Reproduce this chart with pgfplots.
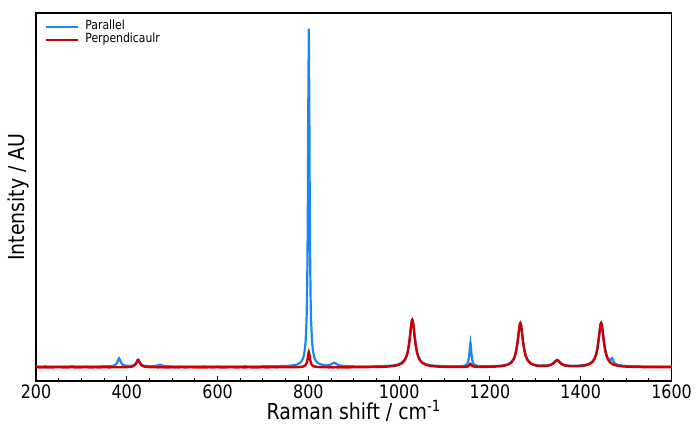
\documentclass[border=0pt]{standalone}
\usepackage{fontspec}
\setmainfont{DejaVu Sans}[FakeStretch=0.86]
\usepackage{pgfplots}
\pgfplotsset{compat=1.18}
\definecolor{parblue}{RGB}{25,135,250}
\definecolor{perpred}{RGB}{204,0,0}
\begin{document}
\begin{tikzpicture}
\begin{axis}[
 scale only axis, width=635.5bp, height=368bp,
 xmin=200, xmax=1600, ymin=-4, ymax=104.9,
 xtick={200,400,...,1600}, minor x tick num=3,
 ytick=\empty,
 xtick pos=left, tick align=inside,
 major tick length=5bp, minor tick length=3bp,
 every tick/.style={black, line width=1bp},
 axis line style={line width=1.3bp},
 ticklabel style={font=\fontsize{18.5bp}{22bp}\selectfont},
 /pgf/number format/assume math mode=true,
 /pgf/number format/1000 sep={},
 xlabel={Raman shift / cm\textsuperscript{-1}},
 ylabel={Intensity / AU},
 label style={font=\fontsize{22bp}{26bp}\selectfont},
 xlabel style={at={(axis description cs:0.5,-0.0815)}, anchor=center},
 ylabel style={at={(axis description cs:-0.0283,0.5)}, anchor=center},
 legend style={draw=none, fill=none, at={(axis description cs:0,1)}, anchor=north west,
   xshift=9bp, yshift=-7bp, font=\fontsize{12.6bp}{15bp}\selectfont,
   inner sep=0pt, row sep=0pt, column sep=5bp,
   nodes={inner sep=1bp, text depth=0.27em, text height=0.85em}, cells={anchor=west}},
 legend image code/.code={\draw[#1, line width=2.2bp] (0bp,0bp) -- (32bp,0bp);},
]
\addplot[parblue, line width=2.2bp] coordinates {
(200,0.32)(210,0.28)(220,0.35)(230,0.30)(240,0.26)(250,0.33)(260,0.29)(270,0.31)(280,0.36)(290,0.27)(300,0.30)(310,0.34)(320,0.28)(330,0.31)(340,0.33)(350,0.35)(360,0.38)
(370,0.50)(375,0.80)(379,1.52)(381,2.23)(383,2.71)(385,2.24)(387,1.53)(391,0.81)(395,0.59)(400,0.49)(405,0.47)(410,0.51)(415,0.66)(419,1.03)(422,1.68)(424,2.21)(425,2.30)(426,2.21)(428,1.68)(431,1.02)(435,0.64)(440,0.47)(450,0.39)(460,0.42)(466,0.53)(470,0.70)(473,0.80)(476,0.70)(480,0.51)(490,0.36)
(500,0.33)(510,0.28)(520,0.34)(530,0.31)(540,0.27)(550,0.33)(560,0.30)(570,0.35)(580,0.29)(590,0.31)(600,0.34)(610,0.30)(620,0.28)(630,0.33)(640,0.32)(650,0.29)(660,0.35)(670,0.31)(680,0.33)(690,0.30)(700,0.36)(710,0.34)(720,0.37)(730,0.38)(740,0.42)(750,0.44)
(760,0.54)(770,0.71)(776,0.94)(782,1.40)(786,2.05)(789,3.00)(792,5.0)(794,7.85)(796,14.1)(797,20.3)(798,31.1)(799,50.3)(800,80.3)(801,100.3)(802,80.3)(803,50.3)(804,31.1)(805,20.3)(806,14.1)(808,7.85)(810,5.0)(813,3.0)(816,2.05)(820,1.43)(826,0.98)(832,0.76)(840,0.67)(845,0.71)(850,0.89)(854,1.24)(857,1.43)(860,1.22)(865,0.76)(870,0.56)(880,0.43)(890,0.38)(900,0.34)(910,0.30)(920,0.31)(930,0.32)(940,0.33)(950,0.36)(960,0.39)(970,0.44)(980,0.53)
(990,0.68)(1000,1.01)(1006,1.42)(1012,2.25)(1016,3.35)(1019,4.79)(1022,7.15)(1024,9.39)(1026,11.91)(1027,13.02)(1028,13.77)(1029,14.05)(1030,13.77)(1031,13.02)(1032,11.91)(1034,9.39)(1036,7.15)(1039,4.79)(1042,3.35)(1046,2.25)(1052,1.42)(1060,0.92)(1070,0.64)(1080,0.51)(1090,0.44)(1100,0.39)(1110,0.37)(1120,0.36)(1130,0.37)(1140,0.45)(1146,0.64)(1150,1.09)(1152,1.70)(1154,3.17)(1155,4.57)(1156,6.33)(1157,7.30)(1158,6.33)(1159,4.57)(1160,3.17)(1162,1.70)(1164,1.09)(1168,0.64)(1175,0.43)(1185,0.37)(1195,0.37)(1205,0.40)(1215,0.45)(1225,0.56)(1232,0.70)(1238,0.91)(1244,1.30)(1248,1.74)(1252,2.51)(1255,3.48)(1258,5.06)(1261,7.63)(1263,9.93)(1265,12.13)(1266,12.84)(1267,13.10)(1268,12.84)(1269,12.13)(1271,9.93)(1273,7.63)(1276,5.06)(1279,3.48)(1282,2.51)(1286,1.74)(1290,1.30)(1296,0.91)(1304,0.65)(1312,0.59)(1320,0.56)(1328,0.63)(1335,0.91)(1340,1.32)(1344,1.89)(1348,2.26)(1352,1.88)(1356,1.31)(1362,0.83)(1370,0.59)(1380,0.51)(1390,0.51)(1400,0.59)(1408,0.71)(1415,0.92)(1420,1.19)(1426,1.79)(1430,2.56)(1434,3.97)(1437,5.85)(1440,8.79)(1442,11.15)(1443,12.18)(1444,12.89)(1445,13.15)(1446,12.91)(1447,12.21)(1448,11.18)(1450,8.83)(1453,5.90)(1456,4.05)(1459,2.95)(1463,2.24)(1466,2.29)(1468,2.70)(1469,2.76)(1470,2.54)(1472,1.81)(1475,1.22)(1480,0.85)(1486,0.67)(1494,0.51)(1505,0.42)(1520,0.36)(1540,0.32)(1560,0.30)(1580,0.28)(1600,0.27)
};
\addlegendentry{Parallel}
\addplot[perpred, line width=2.4bp] coordinates {
(200,0.08)(210,0.02)(220,0.06)(230,0.00)(240,0.05)(250,0.09)(260,0.03)(270,0.04)(280,0.07)(290,0.01)(300,0.05)(310,0.08)(320,0.02)(330,0.06)(340,0.04)(350,0.07)(360,0.05)(370,0.06)(375,0.07)(379,0.06)(381,0.08)(383,0.07)(385,0.07)(387,0.06)(391,0.09)(395,0.10)(400,0.12)(405,0.16)(410,0.23)(415,0.42)(419,0.84)(422,1.57)(424,2.15)(425,2.25)(426,2.15)(428,1.57)(431,0.84)(435,0.42)(440,0.23)(450,0.12)(460,0.08)(466,0.06)(470,0.04)(473,0.07)(476,0.05)(480,0.06)(490,0.03)
(500,0.06)(510,0.02)(520,0.07)(530,0.04)(540,0.08)(550,0.03)(560,0.05)(570,0.01)(580,0.06)(590,0.04)(600,0.07)(610,0.03)(620,0.05)(630,0.08)(640,0.02)(650,0.06)(660,0.04)(670,0.07)(680,0.03)(690,0.05)(700,0.06)(710,0.04)(720,0.07)(730,0.05)(740,0.08)(750,0.09)
(760,0.07)(770,0.09)(776,0.11)(782,0.16)(786,0.22)(789,0.31)(792,0.50)(794,0.75)(796,1.24)(797,1.67)(798,2.30)(799,3.17)(800,4.10)(801,4.55)(802,4.10)(803,3.17)(804,2.30)(805,1.67)(806,1.24)(808,0.75)(810,0.50)(813,0.31)(816,0.22)(820,0.16)(826,0.11)(832,0.09)(840,0.07)(845,0.04)(850,0.06)(854,0.03)(857,0.05)(860,0.07)(865,0.04)(870,0.06)(880,0.03)(890,0.05)(900,0.06)(910,0.10)(920,0.10)(930,0.12)(940,0.14)(950,0.16)(960,0.19)(970,0.24)(980,0.33)
(990,0.49)(1000,0.82)(1006,1.24)(1012,2.08)(1016,3.20)(1019,4.65)(1022,7.05)(1024,9.32)(1026,11.88)(1027,12.99)(1028,13.77)(1029,14.05)(1030,13.77)(1031,12.99)(1032,11.88)(1034,9.32)(1036,7.05)(1039,4.65)(1042,3.20)(1046,2.08)(1052,1.24)(1060,0.73)(1070,0.45)(1080,0.31)(1090,0.23)(1100,0.19)(1110,0.15)(1120,0.14)(1130,0.13)(1140,0.14)(1146,0.17)(1150,0.25)(1152,0.36)(1154,0.60)(1155,0.79)(1156,1.00)(1157,1.10)(1158,1.00)(1159,0.79)(1160,0.60)(1162,0.36)(1164,0.31)(1168,0.22)(1175,0.19)(1185,0.19)(1195,0.20)(1205,0.24)(1215,0.29)(1225,0.40)(1232,0.55)(1238,0.77)(1244,1.16)(1248,1.62)(1252,2.39)(1255,3.38)(1258,4.99)(1261,7.60)(1263,9.93)(1265,12.16)(1266,12.89)(1267,13.15)(1268,12.89)(1269,12.16)(1271,9.93)(1273,7.60)(1276,4.99)(1279,3.38)(1282,2.39)(1286,1.62)(1290,1.16)(1296,0.77)(1304,0.50)(1312,0.49)(1320,0.47)(1328,0.54)(1335,0.79)(1340,1.23)(1344,1.82)(1348,2.21)(1352,1.81)(1356,1.21)(1362,0.71)(1370,0.46)(1380,0.37)(1390,0.37)(1400,0.45)(1408,0.57)(1415,0.79)(1420,1.06)(1426,1.67)(1430,2.44)(1434,3.87)(1437,5.77)(1440,8.75)(1442,11.15)(1443,12.19)(1444,12.92)(1445,13.18)(1446,12.92)(1447,12.19)(1448,11.15)(1450,8.75)(1453,5.77)(1456,3.87)(1459,2.68)(1463,1.78)(1466,1.37)(1468,1.17)(1469,1.09)(1470,1.01)(1472,0.88)(1475,0.73)(1480,0.56)(1486,0.42)(1494,0.31)(1505,0.23)(1520,0.16)(1540,0.12)(1560,0.10)(1580,0.08)(1600,0.07)
};
\addlegendentry{Perpendicaulr}
\end{axis}
\pgfresetboundingbox
\path[use as bounding box] ([xshift=-36bp,yshift=-44bp]current axis.south west) rectangle ([xshift=25.5bp,yshift=13bp]current axis.north east);
\end{tikzpicture}
\end{document}
